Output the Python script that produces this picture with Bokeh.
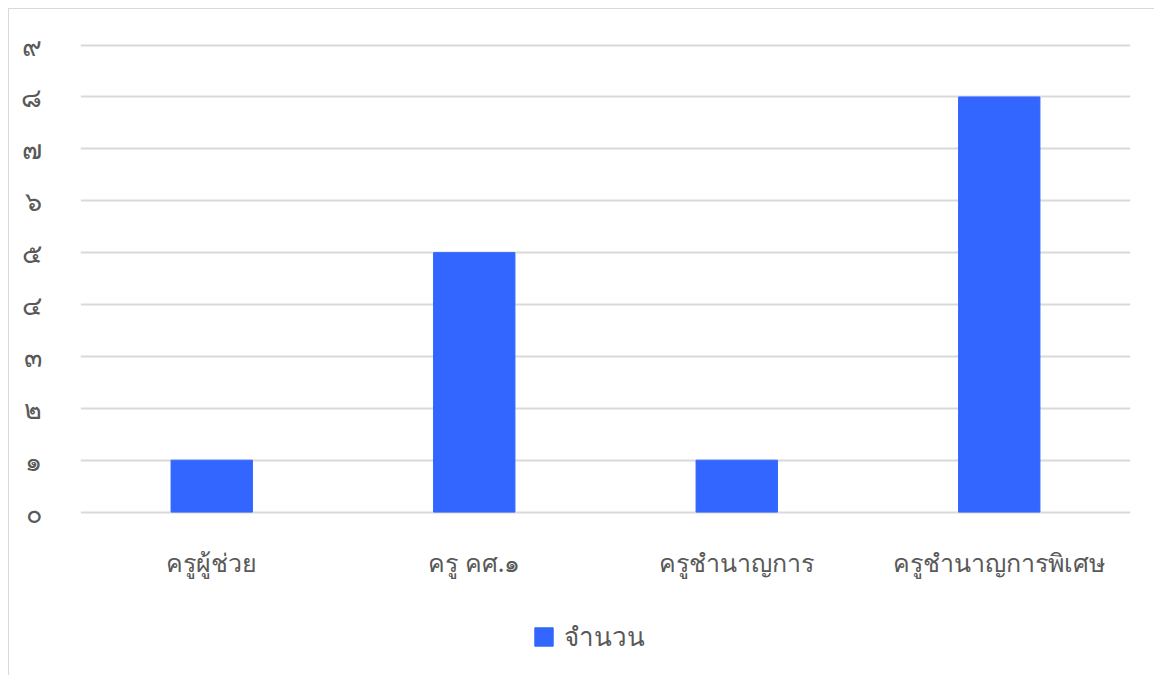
from bokeh.plotting import figure
from bokeh.models import FixedTicker, Legend, LegendItem
from bokeh.embed import file_html
from bokeh.resources import INLINE

categories = ["ครูผู้ช่วย", "ครู คศ.๑", "ครูชำนาญการ", "ครูชำนาญการพิเศษ"]
values = [1, 5, 1, 8]
series_name = "จำนวน"
tick_values = [0, 1, 2, 3, 4, 5, 6, 7, 8, 9]
tick_labels = ["๐", "๑", "๒", "๓", "๔", "๕", "๖", "๗", "๘", "๙"]

FONT = "Noto Sans"
GRAY = "#595959"
BLUE = "#3366ff"

# frame extends below zero so the legend can sit inside it, under the axis
p = figure(x_range=categories, y_range=(-2.899, 9.05),
           frame_width=1050, frame_height=620,
           output_backend="svg", toolbar_location=None,
           min_border_left=71, min_border_right=24, min_border_top=33, min_border_bottom=20)
p.styles = {"border": "1px solid #d9d9d9", "margin": "8px 0 0 8px"}

r = p.vbar(x=categories, top=values, width=0.31, color=BLUE)

p.outline_line_color = None
p.xgrid.grid_line_color = None
p.ygrid.grid_line_color = "#d9d9d9"
p.ygrid.grid_line_width = 2

p.yaxis.ticker = FixedTicker(ticks=tick_values)
p.yaxis.major_label_overrides = {v: l for v, l in zip(tick_values, tick_labels)}
for ax in (p.xaxis, p.yaxis):
    ax.axis_line_color = None
    ax.major_tick_line_color = None
    ax.minor_tick_line_color = None
    ax.major_label_text_color = GRAY
    ax.major_label_text_font = FONT
p.yaxis.major_label_text_font_size = "27px"
p.yaxis.major_label_standoff = 33
p.xaxis.fixed_location = 0
p.xaxis.major_label_text_font_size = "25px"
p.xaxis.major_label_standoff = 27

legend = Legend(items=[LegendItem(label=series_name, renderers=[r])],
                location=(452, 5), orientation="horizontal",
                border_line_color=None, background_fill_alpha=0,
                label_text_font=FONT, label_text_font_size="26px",
                label_text_color=GRAY, glyph_width=23, glyph_height=23,
                label_standoff=9, margin=0, padding=5)
p.add_layout(legend, "center")

open("out.html", "w").write(file_html(p, INLINE))
